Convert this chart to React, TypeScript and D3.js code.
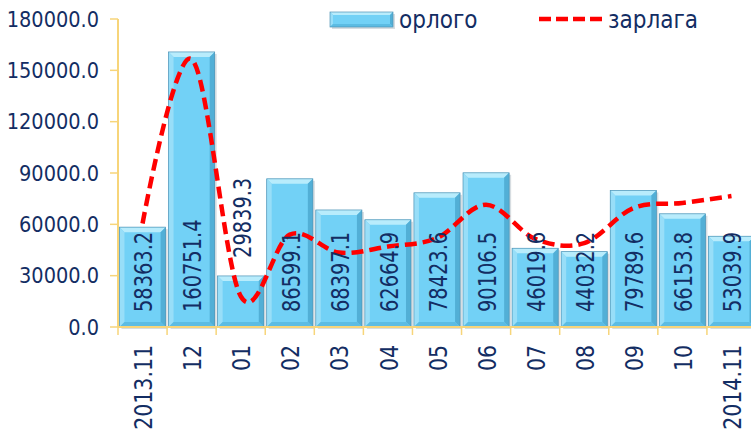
import React from "react";
import * as d3 from "d3";

// months on the x axis
const months = ["2013.11", "12", "01", "02", "03", "04", "05", "06", "07", "08", "09", "10", "2014.11"];
// орлого (income) - bars
const income = [58363.2, 160751.4, 29839.3, 86599.1, 68397.1, 62664.9, 78423.6, 90106.5, 46019.6, 44032.2, 79789.6, 66153.8, 53039.9];
// зарлага (expense) - dashed line
const expense = [60500, 156500, 18000, 54000, 43500, 47000, 52000, 71500, 51500, 49000, 69500, 72500, 76500];
const yTicks = [0, 30000, 60000, 90000, 120000, 150000, 180000];
const legendLabels = ["орлого", "зарлага"];

const W = 751;
const H = 435;
const navy = "#132d63";
const gold = "#f7d57a";
const font = "'DejaVu Sans', sans-serif";

function Bevel({ x0, x1, y0, y1, b }: { x0: number; x1: number; y0: number; y1: number; b: number }) {
  const p = (pts: number[][]) => pts.map((d) => d.join(",")).join(" ");
  return (
    <g>
      <rect x={x0 + 2} y={y0 + 2} width={x1 - x0} height={y1 - y0} fill="#9aa9b3" opacity={0.4} />
      <rect x={x0} y={y0} width={x1 - x0} height={y1 - y0} fill="#72d1f6" />
      <polygon points={p([[x0, y0], [x1, y0], [x1 - b, y0 + b], [x0 + b, y0 + b]])} fill="#b8ecfc" />
      <polygon points={p([[x0, y0], [x0 + b, y0 + b], [x0 + b, y1 - b], [x0, y1]])} fill="#98def8" />
      <polygon points={p([[x1, y0], [x1, y1], [x1 - b, y1 - b], [x1 - b, y0 + b]])} fill="#52afd6" />
      <polygon points={p([[x0, y1], [x1, y1], [x1 - b, y1 - b], [x0 + b, y1 - b]])} fill="#5cbce3" />
      <rect x={x0} y={y0} width={x1 - x0} height={y1 - y0} fill="none" stroke="#4f93b5" strokeWidth={0.7} />
    </g>
  );
}

export default function App() {
  const left = 118;
  const right = 756;
  const top = 19;
  const bottom = 327;

  const x = d3.scaleBand<string>().domain(months).range([left, right]).paddingInner(0.06).paddingOuter(0.03);
  const y = d3.scaleLinear().domain([0, 180000]).range([bottom, top]);
  const step = x.step();

  // Excel-style smoothing ~ uniform Catmull-Rom
  const line = d3
    .line<number>()
    .x((_, i) => (x(months[i]) as number) + x.bandwidth() / 2)
    .y((d) => y(d))
    .curve(d3.curveCardinal.tension(0));

  const fmt = d3.format(".1f");
  const cond = { fontStretch: "condensed" };

  return (
    <svg width={W} height={H} style={{ position: "absolute", left: 0, top: 0, background: "#fff" }} fontFamily={font}>
      {/* bars */}
      {income.map((v, i) => {
        const x0 = x(months[i]) as number;
        return <Bevel key={i} x0={x0} x1={x0 + x.bandwidth()} y0={y(v)} y1={bottom} b={5} />;
      })}

      {/* axes */}
      <line x1={left} x2={left} y1={top} y2={bottom} stroke={gold} strokeWidth={2} />
      <line x1={left} x2={W} y1={bottom} y2={bottom} stroke={gold} strokeWidth={2} />
      {yTicks.map((t) => (
        <g key={t}>
          <line x1={left - 8} x2={left} y1={y(t)} y2={y(t)} stroke={gold} strokeWidth={1.5} />
          <text x={99} y={y(t)} dy="0.36em" textAnchor="end" fontSize={21.5} fill={navy} style={cond}>
            {fmt(t)}
          </text>
        </g>
      ))}
      {d3.range(months.length + 1).map((i) => (
        <line key={i} x1={left + i * step} x2={left + i * step} y1={bottom} y2={bottom + 8} stroke={gold} strokeWidth={1.5} />
      ))}
      {months.map((m) => {
        const cx = (x(m) as number) + x.bandwidth() / 2;
        return (
          <text key={m} transform={`translate(${cx + 1},345) rotate(-90) scale(0.95,1)`} dy="0.36em" textAnchor="end" fontSize={24} fill={navy} style={cond}>
            {m}
          </text>
        );
      })}

      {/* expense line */}
      <path d={line(expense) as string} fill="none" stroke="#ff0000" strokeWidth={4.5} strokeDasharray="12 6" />

      {/* bar labels */}
      {income.map((v, i) => {
        const cx = (x(months[i]) as number) + x.bandwidth() / 2;
        const tall = bottom - y(v) > 60;
        const ly = tall ? 312 : y(v) - 18;
        return (
          <text key={i} transform={`translate(${cx + 1},${ly}) rotate(-90) scale(0.88,1)`} dy="0.36em" textAnchor="start" fontSize={24.5} fill={navy} style={cond}>
            {fmt(v)}
          </text>
        );
      })}

      {/* legend */}
      <Bevel x0={330} x1={393} y0={12} y1={27} b={3} />
      <text x={399} y={19.5} dy="0.36em" fontSize={24} fill={navy} style={cond}>
        {legendLabels[0]}
      </text>
      <line x1={539} x2={602} y1={19} y2={19} stroke="#ff0000" strokeWidth={4.5} strokeDasharray="12 5" />
      <text x={608} y={19.5} dy="0.36em" fontSize={24} fill={navy} style={cond}>
        {legendLabels[1]}
      </text>
    </svg>
  );
}
